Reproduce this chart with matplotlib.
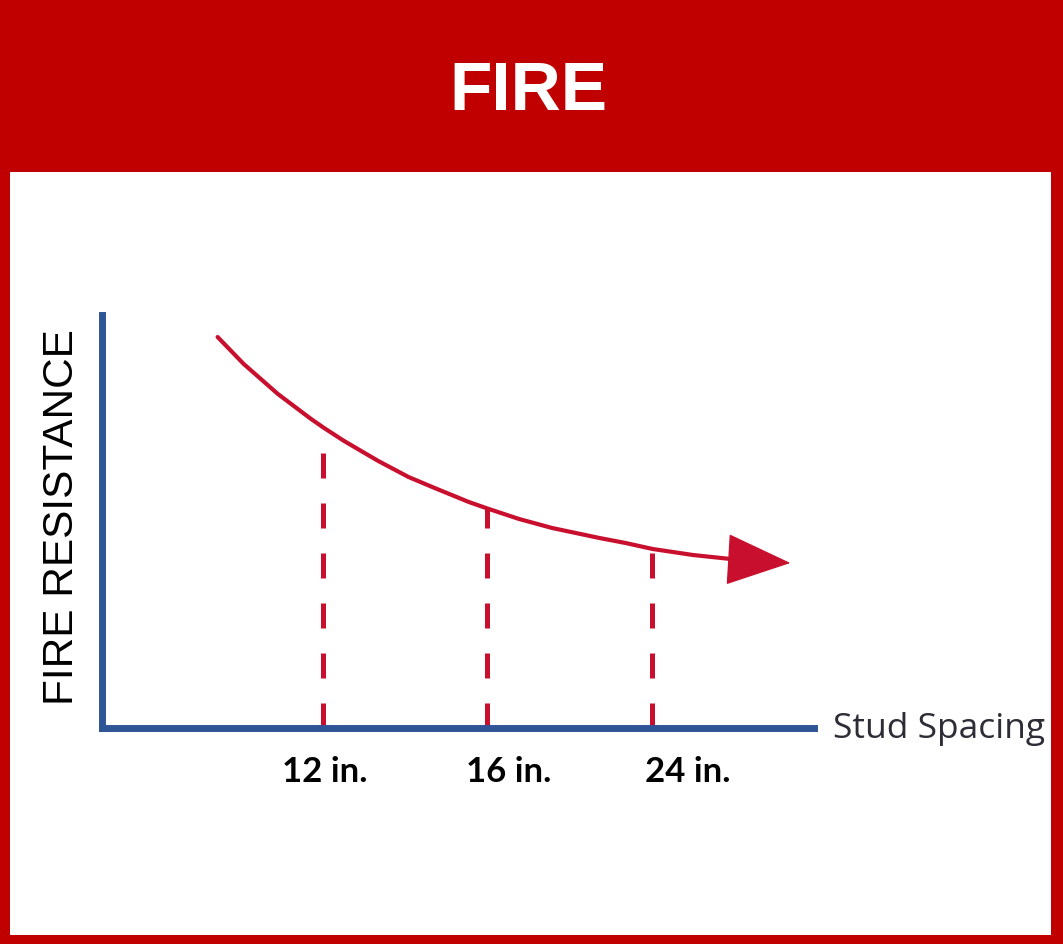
import matplotlib
matplotlib.use('Agg')
import matplotlib.pyplot as plt
import matplotlib.transforms as mtransforms
from matplotlib.patches import Rectangle

# ---- content / data ----
title = "FIRE"
y_label = "FIRE RESISTANCE"
x_label = "Stud Spacing"
stud_labels = ["12 in.", "16 in.", "24 in."]
stud_pos = [1, 2, 3]
stud_resist = [3.00, 2.19, 1.79]
# curve (last point = arrow tip)
curve_x = [0.358, 0.517, 0.725, 0.927, 1.006, 1.128, 1.336, 1.520, 1.679, 1.887,
           2.009, 2.193, 2.394, 2.682, 2.841, 3.006, 3.251, 3.538, 3.844]
curve_y = [3.91, 3.64, 3.34, 3.09, 3.00, 2.87, 2.67, 2.51, 2.40, 2.26,
           2.19, 2.09, 2.00, 1.90, 1.85, 1.79, 1.73, 1.68, 1.65]

# ---- style ----
RED = '#C00000'
LINE_RED = '#C8102E'
BLUE = '#2F5597'
W, H = 1063, 945
label_dx_px = [2, 21.5, 36]

fig = plt.figure(figsize=(W / 100, H / 100), dpi=100, facecolor=RED)
fig.add_artist(Rectangle((10 / W, (H - 936) / H), (1051 - 10) / W, (936 - 173) / H,
                         transform=fig.transFigure, facecolor='white',
                         edgecolor='none', zorder=0))

fig.text(528.5 / W, 1 - 110 / H, title, color='white', fontsize=50,
         fontweight='bold', family='Liberation Sans', ha='center', va='baseline')

ax = fig.add_axes([101.5 / W, 1 - 729 / H, (813.5 - 101.5) / W, (729 - 315.5) / H])
ax.patch.set_visible(False)
for s in ['top', 'right']:
    ax.spines[s].set_visible(False)
for s in ['left', 'bottom']:
    ax.spines[s].set_color(BLUE)
    ax.spines[s].set_linewidth(5)
    ax.spines[s].set_capstyle('projecting')

ax.set_xlim(-0.3486, 3.9847)
ax.set_ylim(0, 4.135)
ax.set_yticks([])

ax.vlines(stud_pos, 0, stud_resist, colors=LINE_RED, linewidth=3.6,
          linestyles=[(0, (5, 5))], zorder=2)
ax.plot(curve_x[:-1], curve_y[:-1], color=LINE_RED, lw=3,
        solid_capstyle='round', solid_joinstyle='round', zorder=3)
ax.annotate('', xy=(curve_x[-1], curve_y[-1]), xytext=(curve_x[-2], curve_y[-2]),
            arrowprops=dict(arrowstyle='-|>,head_length=2.15,head_width=0.86',
                            mutation_scale=20, color=LINE_RED, lw=1,
                            shrinkA=0, shrinkB=0), zorder=3)

ax.set_xticks(stud_pos, stud_labels)
ax.tick_params(axis='x', length=0, pad=38.2, labelsize=25, labelcolor='black')
for lbl, dx in zip(ax.get_xticklabels(), label_dx_px):
    lbl.set_fontfamily('Lato')
    lbl.set_fontweight('bold')
    lbl.set_verticalalignment('baseline')
    lbl.set_transform(lbl.get_transform() +
                      mtransforms.ScaledTranslation(dx / 100, 0, fig.dpi_scale_trans))

ax.annotate(x_label, xy=(1, 0), xycoords='axes fraction', xytext=(19.5, -9),
            textcoords='offset pixels', ha='left', va='baseline',
            fontsize=25.5, family='Open Sans', color='#2d2d37')

fig.text(73 / W, 1 - 517.5 / H, y_label, rotation=90, rotation_mode='anchor',
         ha='center', va='baseline', fontsize=30.5, family='Liberation Sans',
         color='black')

fig.savefig('out.png', dpi=100, facecolor=RED)
